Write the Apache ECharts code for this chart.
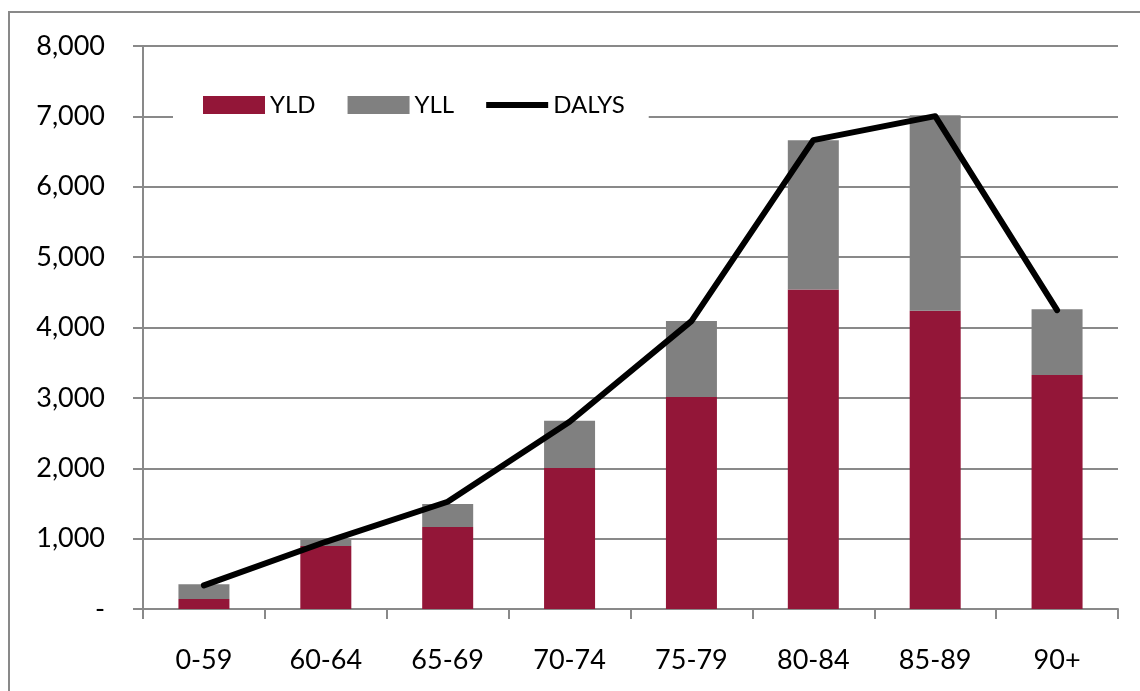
<!DOCTYPE html>
<html>
<head>
<meta charset="utf-8">
<script src="https://cdn.jsdelivr.net/npm/echarts@6/dist/echarts.min.js"></script>
<style>html,body{margin:0;padding:0;background:#fff;}#c{width:1140px;height:691px;}</style>
</head>
<body>
<div id="c"></div>
<script>
const categories = ['0-59','60-64','65-69','70-74','75-79','80-84','85-89','90+'];
const yld = [142, 895, 1165, 2003, 3014, 4541, 4237, 3324];
const yll = [208, 95, 326, 672, 1079, 2121, 2780, 937];
const dalys = [335, 955, 1524, 2660, 4090, 6662, 7003, 4247];
const yTicks = [0, 1000, 2000, 3000, 4000, 5000, 6000, 7000, 8000];

const font = 'Lato, "Open Sans", sans-serif';
const gridColor = '#898989';
const chart = echarts.init(document.getElementById('c'));
chart.setOption({
  animation: false,
  backgroundColor: '#fff',
  graphic: [{
    type: 'rect', silent: true, z: -10,
    shape: { x: 9, y: 12, width: 1140, height: 700 },
    style: { fill: 'none', stroke: gridColor, lineWidth: 2 }
  }],
  grid: { left: 143, right: 22, top: 46, bottom: 82 },
  legend: {
    left: 173, top: 83,
    backgroundColor: '#fff',
    padding: [10, 24, 10, 30],
    itemWidth: 62, itemHeight: 18, itemGap: 32,
    textStyle: { fontFamily: font, fontSize: 24, color: '#000' },
    data: [
      { name: 'YLD', icon: 'rect' },
      { name: 'YLL', icon: 'rect' },
      { name: 'DALYS', icon: 'path://M0 0H62V6H0Z', itemStyle: { color: '#000' } }
    ],
    z: 10
  },
  xAxis: {
    type: 'category', data: categories, boundaryGap: true,
    axisLine: { lineStyle: { color: gridColor, width: 2 } },
    axisTick: { show: true, length: 10, lineStyle: { color: gridColor, width: 2 } },
    axisLabel: { color: '#000', fontFamily: font, fontSize: 27, margin: 38 },
    splitLine: { show: false }
  },
  yAxis: {
    type: 'value', min: yTicks[0], max: yTicks[yTicks.length - 1], interval: 1000,
    axisLine: { show: true, lineStyle: { color: gridColor, width: 2 } },
    axisTick: { show: true, length: 10, lineStyle: { color: gridColor, width: 2 } },
    axisLabel: {
      color: '#000', fontFamily: font, fontSize: 27, margin: 38,
      formatter: v => v === 0 ? '-' : v.toLocaleString('en-US')
    },
    splitLine: { show: true, lineStyle: { color: gridColor, width: 2 } }
  },
  series: [
    { name: 'YLD', type: 'bar', stack: 'd', data: yld, barWidth: 51, itemStyle: { color: '#931638' } },
    { name: 'YLL', type: 'bar', stack: 'd', data: yll, barWidth: 51, itemStyle: { color: '#808080' } },
    { name: 'DALYS', type: 'line', data: dalys, symbol: 'none', showSymbol: false, z: 5,
      lineStyle: { color: '#000', width: 6, cap: 'round', join: 'round' }, itemStyle: { color: '#000' } }
  ]
});
</script>
</body>
</html>
